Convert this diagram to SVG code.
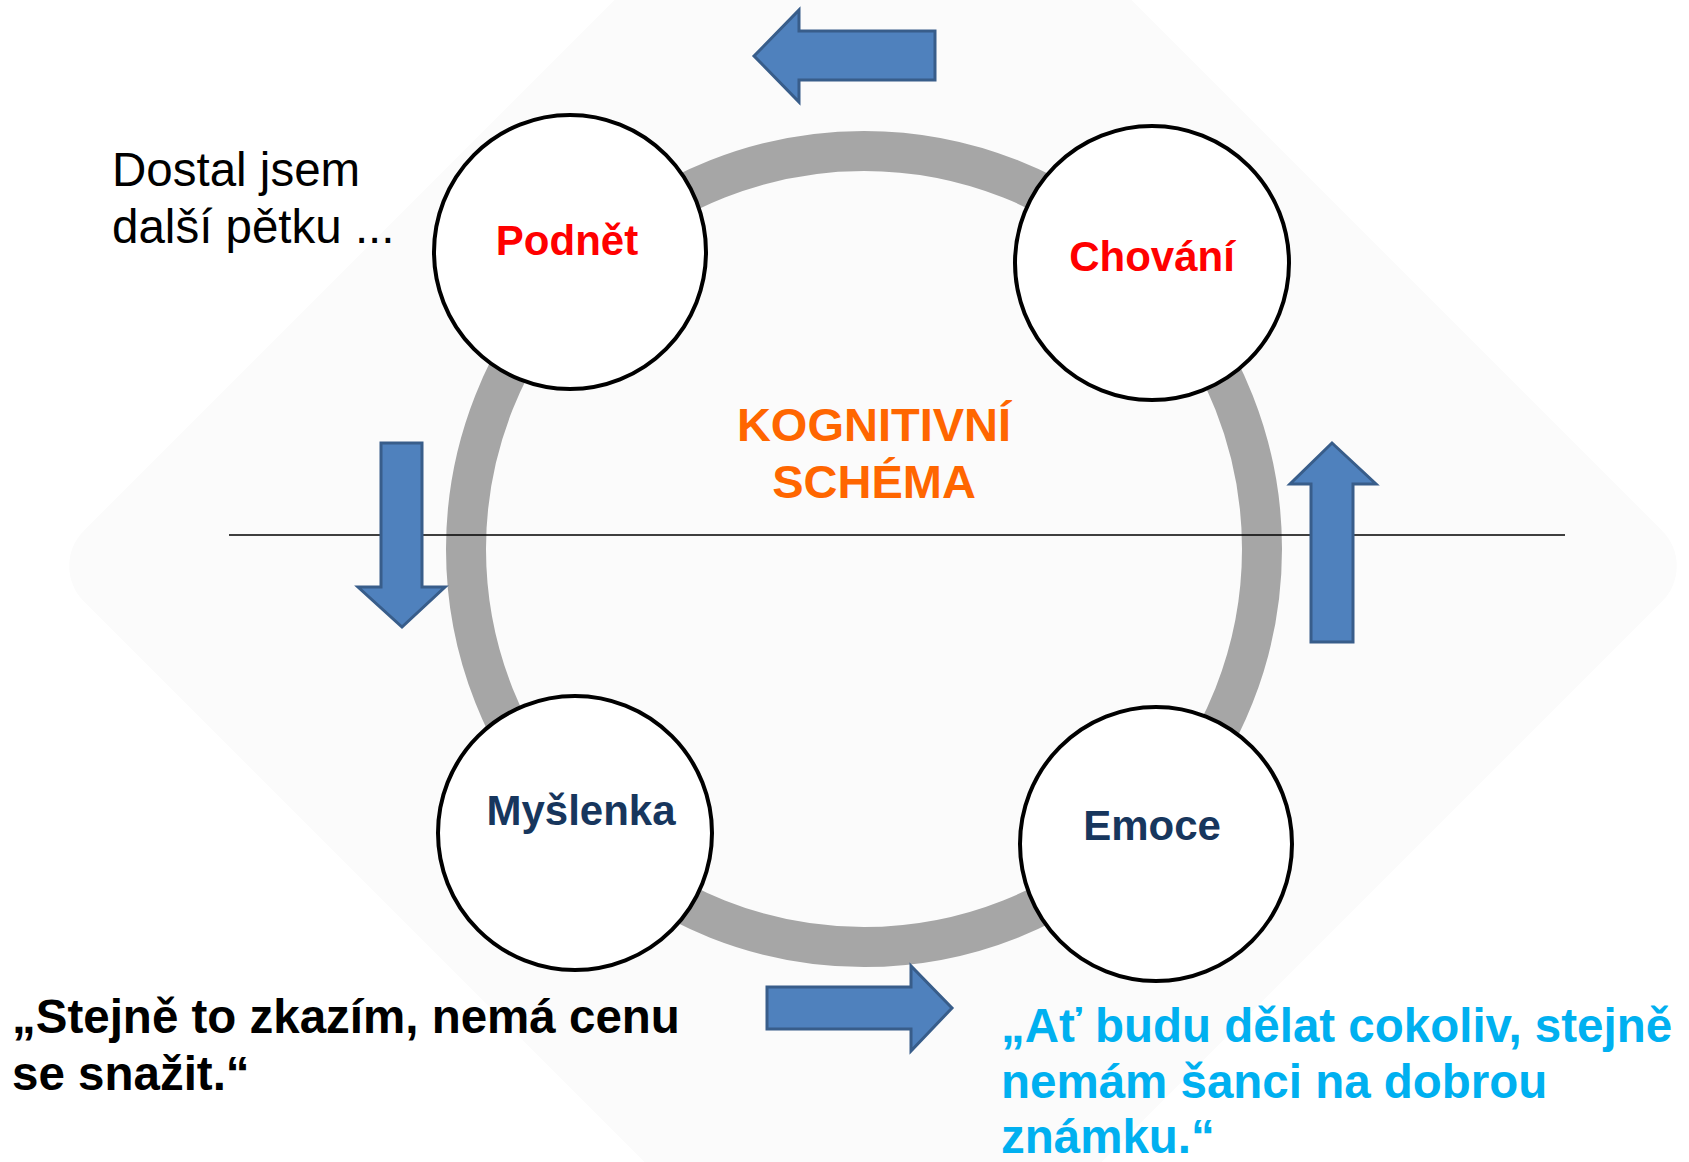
<svg xmlns="http://www.w3.org/2000/svg" width="1689" height="1162" viewBox="0 0 1689 1162">
  <style>
    .node { fill: #ffffff; stroke: #000000; stroke-width: 4; }
    .lbl { font-family: "Liberation Sans", Arial, sans-serif; font-weight: bold; font-size: 42px; text-anchor: middle; }
    .red { fill: #ff0000; }
    .navy { fill: #17365d; }
    .arrow { fill: #4f81bd; stroke: #385d8a; stroke-width: 3; stroke-linejoin: miter; }
    .big { font-family: "Liberation Sans", Arial, sans-serif; font-size: 47.5px; }
  </style>
  <rect x="0" y="0" width="1689" height="1162" fill="#ffffff"/>
  <!-- faint background diamond -->
  <rect x="290" y="-17" width="1166" height="1166" rx="50" fill="#fbfbfb" transform="rotate(45 873 566)"/>

  <!-- gray cycle ring -->
  <circle cx="864" cy="549" r="398" fill="none" stroke="#a6a6a6" stroke-width="40"/>

  <!-- dividing line -->
  <line x1="229" y1="535" x2="1565" y2="535" stroke="#000000" stroke-width="1.6"/>

  <g id="connectors">
    <!-- top arrow, pointing left -->
    <polygon class="arrow" points="754,56 799,10 799,31 935,31 935,80 799,80 799,102"/>
    <!-- left arrow, pointing down -->
    <polygon class="arrow" points="381,443 422,443 422,587 445,587 402,627 358,587 381,587"/>
    <!-- right arrow, pointing up -->
    <polygon class="arrow" points="1332,443 1376,484 1353,484 1353,642 1311,642 1311,484 1290,484"/>
    <!-- bottom arrow, pointing right -->
    <polygon class="arrow" points="767,987 911,987 911,966 952,1008 911,1051 911,1029 767,1029"/>
  </g>

  <g id="node-podnet">
    <ellipse class="node" cx="570" cy="252" rx="136" ry="137"/>
    <text class="lbl red" x="567" y="255">Podnět</text>
  </g>
  <g id="node-chovani">
    <ellipse class="node" cx="1152" cy="263" rx="137" ry="137"/>
    <text class="lbl red" x="1152" y="271">Chování</text>
  </g>
  <g id="node-myslenka">
    <ellipse class="node" cx="575" cy="833" rx="137" ry="137"/>
    <text class="lbl navy" x="581" y="825">Myšlenka</text>
  </g>
  <g id="node-emoce">
    <ellipse class="node" cx="1156" cy="844" rx="136" ry="137"/>
    <text class="lbl navy" x="1152" y="840">Emoce</text>
  </g>

  <g id="center-title">
    <text class="lbl" fill="#ff6600" style="font-size:47px" x="874" y="441">KOGNITIVNÍ</text>
    <text class="lbl" fill="#ff6600" style="font-size:47px" x="874" y="498">SCHÉMA</text>
  </g>

  <g id="stimulus-text">
    <text class="big" fill="#000000" x="112" y="186">Dostal jsem</text>
    <text class="big" fill="#000000" x="112" y="243">další pětku ...</text>
  </g>

  <g id="thought-text">
    <text class="big" font-weight="bold" fill="#000000" x="12" y="1033">„Stejně to zkazím, nemá cenu</text>
    <text class="big" font-weight="bold" fill="#000000" x="12" y="1090">se snažit.“</text>
  </g>

  <g id="emotion-text">
    <text class="big" font-weight="bold" fill="#00b0f0" x="1001" y="1042">„Ať budu dělat cokoliv, stejně</text>
    <text class="big" font-weight="bold" fill="#00b0f0" x="1001" y="1098">nemám šanci na dobrou</text>
    <text class="big" font-weight="bold" fill="#00b0f0" x="1001" y="1153">známku.“</text>
  </g>
</svg>
